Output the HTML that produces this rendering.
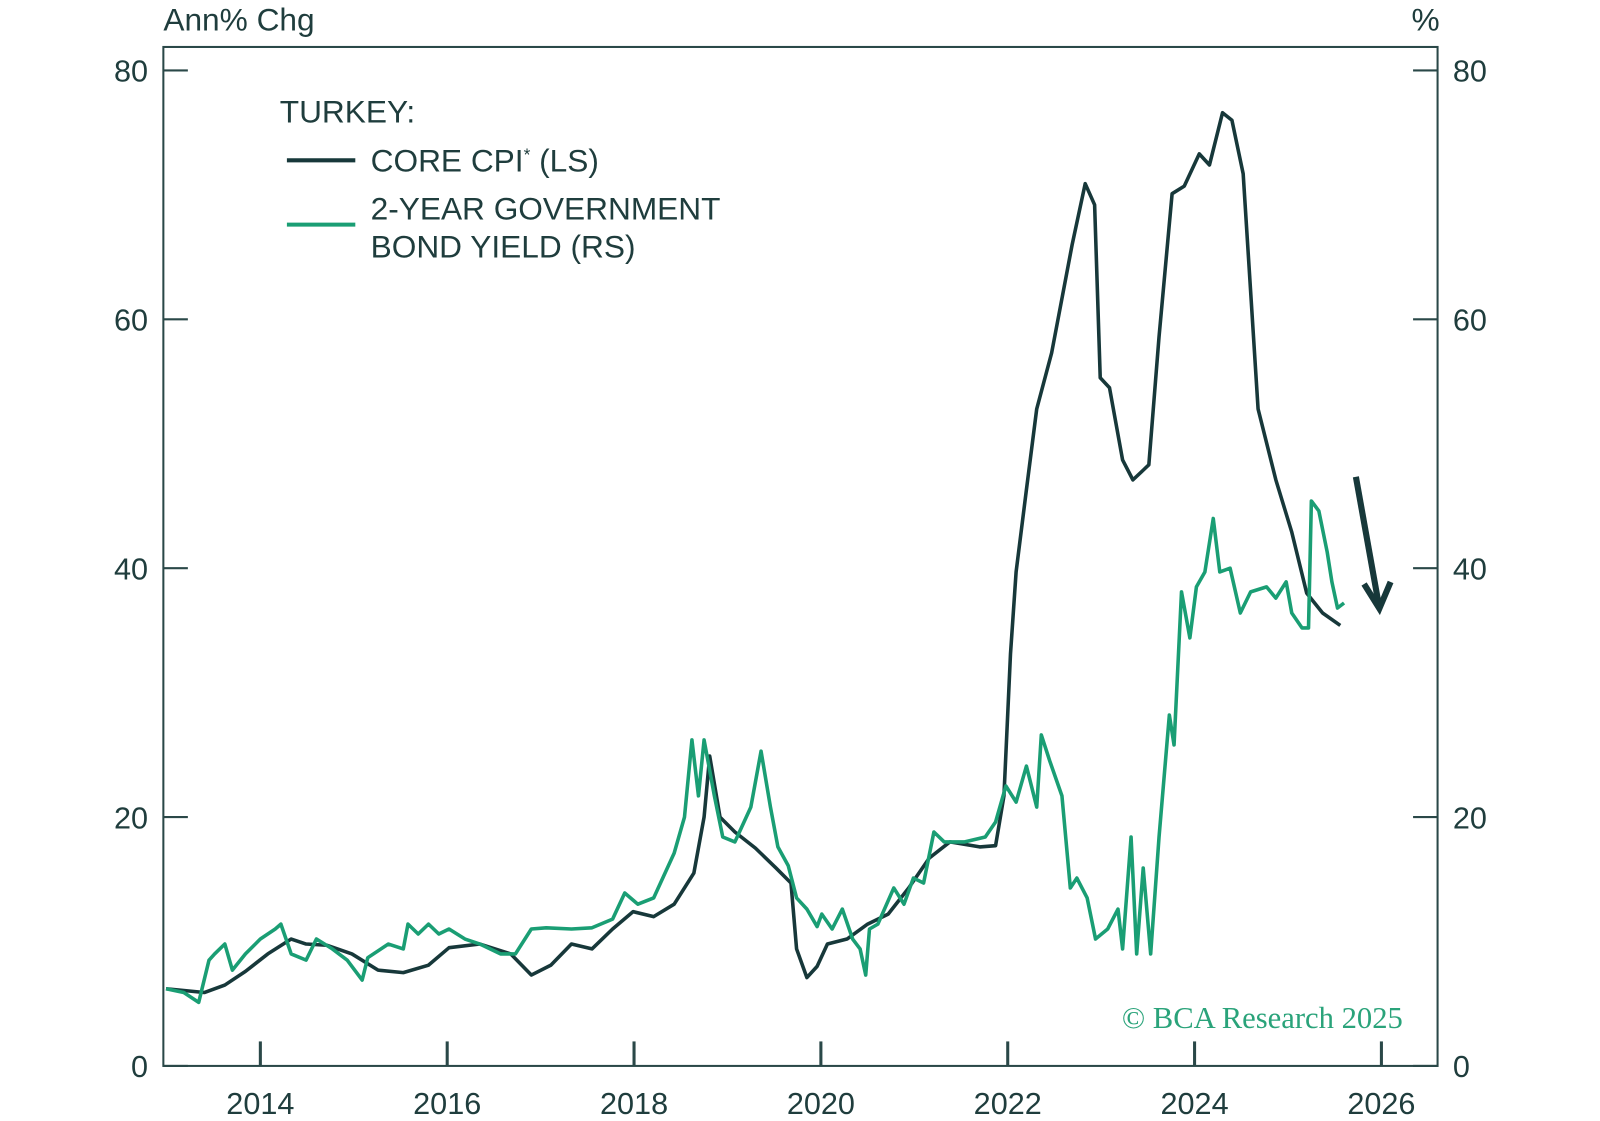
<!DOCTYPE html>
<html><head><meta charset="utf-8"><style>
body{margin:0;background:#fff;}
svg{display:block;font-family:"Liberation Sans",sans-serif;}
</style></head><body>
<svg id="chart" width="1600" height="1121" viewBox="0 0 1600 1121">
<g transform="scale(1.021)">
<text x="160" y="30" font-size="31" fill="#1f3d3d">Ann% Chg</text>
<text x="1410" y="30" font-size="31" fill="#1f3d3d" text-anchor="end">%</text>
<rect x="160" y="46" width="1248" height="998" fill="none" stroke="#2a4848" stroke-width="2"/>
<g id="axes"></g>
<g id="series"></g>
<g fill="#1f3d3d" font-size="31">
<text x="274" y="120">TURKEY:</text>
<line x1="281" y1="157" x2="348" y2="157" stroke="#17383a" stroke-width="4"/>
<text x="363" y="168">CORE CPI<tspan font-size="17" dy="-11">*</tspan><tspan dy="11"> (LS)</tspan></text>
<line x1="281" y1="220" x2="348" y2="220" stroke="#1a9e74" stroke-width="4"/>
<text x="363" y="215">2-YEAR GOVERNMENT</text>
<text x="363" y="252">BOND YIELD (RS)</text>
</g>
<g stroke="#17383a" stroke-width="6" fill="none">
<line x1="1328" y1="467" x2="1350" y2="590"/>
<polyline points="1336,572 1351,596 1362,570"/>
</g>
<text x="1374" y="1007" text-anchor="end" font-family="Liberation Serif,serif" font-size="30" fill="#2aa37a">© BCA Research 2025</text>
</g>
</svg>
<script>
const cpiYears=[2012.99,2013.40,2013.62,2013.84,2014.08,2014.33,2014.49,2014.71,2014.98,2015.26,2015.53,2015.80,2016.02,2016.35,2016.68,2016.90,2017.11,2017.33,2017.55,2017.77,2017.99,2018.21,2018.43,2018.64,2018.75,2018.81,2018.92,2019.08,2019.30,2019.52,2019.68,2019.74,2019.85,2019.96,2020.07,2020.28,2020.50,2020.72,2020.94,2021.16,2021.38,2021.70,2021.87,2021.96,2022.03,2022.09,2022.20,2022.31,2022.47,2022.69,2022.83,2022.93,2022.99,2023.09,2023.23,2023.34,2023.51,2023.62,2023.76,2023.89,2024.05,2024.16,2024.30,2024.40,2024.52,2024.68,2024.87,2025.04,2025.20,2025.37,2025.56];
const cpiValues=[6.2,5.9,6.5,7.6,9.0,10.2,9.8,9.7,9.0,7.7,7.5,8.1,9.5,9.8,9.0,7.3,8.1,9.8,9.4,11.0,12.4,12.0,13.0,15.5,20.0,24.9,20.0,18.8,17.5,15.9,14.7,9.4,7.1,8.0,9.8,10.2,11.4,12.2,14.3,16.7,18.0,17.6,17.7,21.7,33.1,39.7,46.3,52.8,57.3,66.0,70.9,69.2,55.3,54.5,48.7,47.1,48.3,58.6,70.1,70.7,73.3,72.4,76.6,76.0,71.7,52.8,47.1,42.9,38.0,36.4,35.4];
const bondYears=[2012.99,2013.18,2013.34,2013.45,2013.51,2013.62,2013.70,2013.84,2014.00,2014.16,2014.22,2014.33,2014.49,2014.60,2014.77,2014.93,2015.09,2015.15,2015.37,2015.53,2015.58,2015.69,2015.80,2015.91,2016.02,2016.19,2016.35,2016.57,2016.73,2016.90,2017.06,2017.33,2017.55,2017.77,2017.90,2018.04,2018.21,2018.43,2018.54,2018.62,2018.69,2018.75,2018.86,2018.95,2019.08,2019.25,2019.36,2019.46,2019.54,2019.65,2019.74,2019.85,2019.96,2020.01,2020.12,2020.23,2020.34,2020.42,2020.48,2020.52,2020.61,2020.78,2020.89,2020.99,2021.10,2021.21,2021.32,2021.54,2021.76,2021.87,2021.98,2022.09,2022.20,2022.31,2022.36,2022.45,2022.58,2022.67,2022.74,2022.85,2022.94,2023.07,2023.18,2023.23,2023.32,2023.38,2023.45,2023.53,2023.62,2023.73,2023.78,2023.86,2023.95,2024.02,2024.11,2024.20,2024.27,2024.38,2024.49,2024.60,2024.77,2024.87,2024.98,2025.04,2025.15,2025.22,2025.25,2025.33,2025.42,2025.47,2025.53,2025.60];
const bondValues=[6.2,5.9,5.1,8.5,9.0,9.8,7.7,9.0,10.2,11.0,11.4,9.0,8.5,10.2,9.4,8.5,6.9,8.7,9.8,9.4,11.4,10.6,11.4,10.6,11.0,10.2,9.8,9.0,9.0,11.0,11.1,11.0,11.1,11.8,13.9,13.0,13.5,17.1,20.0,26.2,21.7,26.2,21.7,18.4,18.0,20.8,25.3,20.8,17.6,16.1,13.5,12.6,11.2,12.2,11.0,12.6,10.2,9.4,7.3,11.0,11.4,14.3,13.0,15.1,14.7,18.8,18.0,18.0,18.4,19.6,22.5,21.2,24.1,20.8,26.6,24.5,21.7,14.3,15.1,13.5,10.2,11.0,12.6,9.4,18.4,9.0,15.9,9.0,18.4,28.2,25.8,38.1,34.4,38.5,39.7,44.0,39.7,40.0,36.4,38.1,38.5,37.6,38.9,36.4,35.2,35.2,45.4,44.6,41.3,38.9,36.8,37.2];
const yTicks=[0,20,40,60,80];
const xTicks=[2014,2016,2018,2020,2022,2024,2026];

const NS='http://www.w3.org/2000/svg';
const X=yr=>255+(yr-2014)*91.5;
const Y=v=>1044-v*12.1875;
const axes=document.getElementById('axes'),series=document.getElementById('series');
function mk(tag,attrs,parent){const e=document.createElementNS(NS,tag);for(const k in attrs)e.setAttribute(k,attrs[k]);parent.appendChild(e);return e;}
yTicks.forEach(v=>{
  const l=mk('line',{x1:160,x2:184,y1:Y(v),y2:Y(v),stroke:'#2a4848','stroke-width':2},axes);
  
  
  const r=mk('line',{x1:1384,x2:1408,y1:Y(v),y2:Y(v),stroke:'#2a4848','stroke-width':2},axes);
  
  
  const t=mk('text',{x:145,y:Y(v)+11,'text-anchor':'end','font-size':30,fill:'#1f3d3d'},axes);t.textContent=v;
  
  
  const t2=mk('text',{x:1423,y:Y(v)+11,'font-size':30,fill:'#1f3d3d'},axes);t2.textContent=v;
  
  
});
xTicks.forEach(yr=>{
  const l=mk('line',{x1:X(yr),x2:X(yr),y1:1020,y2:1044,stroke:'#2a4848','stroke-width':3},axes);
  
  
  const t=mk('text',{x:X(yr),y:1091,'text-anchor':'middle','font-size':30,fill:'#1f3d3d'},axes);t.textContent=yr;
  
  
});
function line(xs,vs,color,name){
  const p=mk('polyline',{points:xs.map((x,i)=>X(x).toFixed(1)+','+Y(vs[i]).toFixed(1)).join(' '),fill:'none',stroke:color,'stroke-width':3.5,'stroke-linejoin':'round'},series);
  
  
}
line(cpiYears,cpiValues,'#17383a','core-cpi-line');
line(bondYears,bondValues,'#1a9e74','bond-yield-line');
</script>
</body></html>
